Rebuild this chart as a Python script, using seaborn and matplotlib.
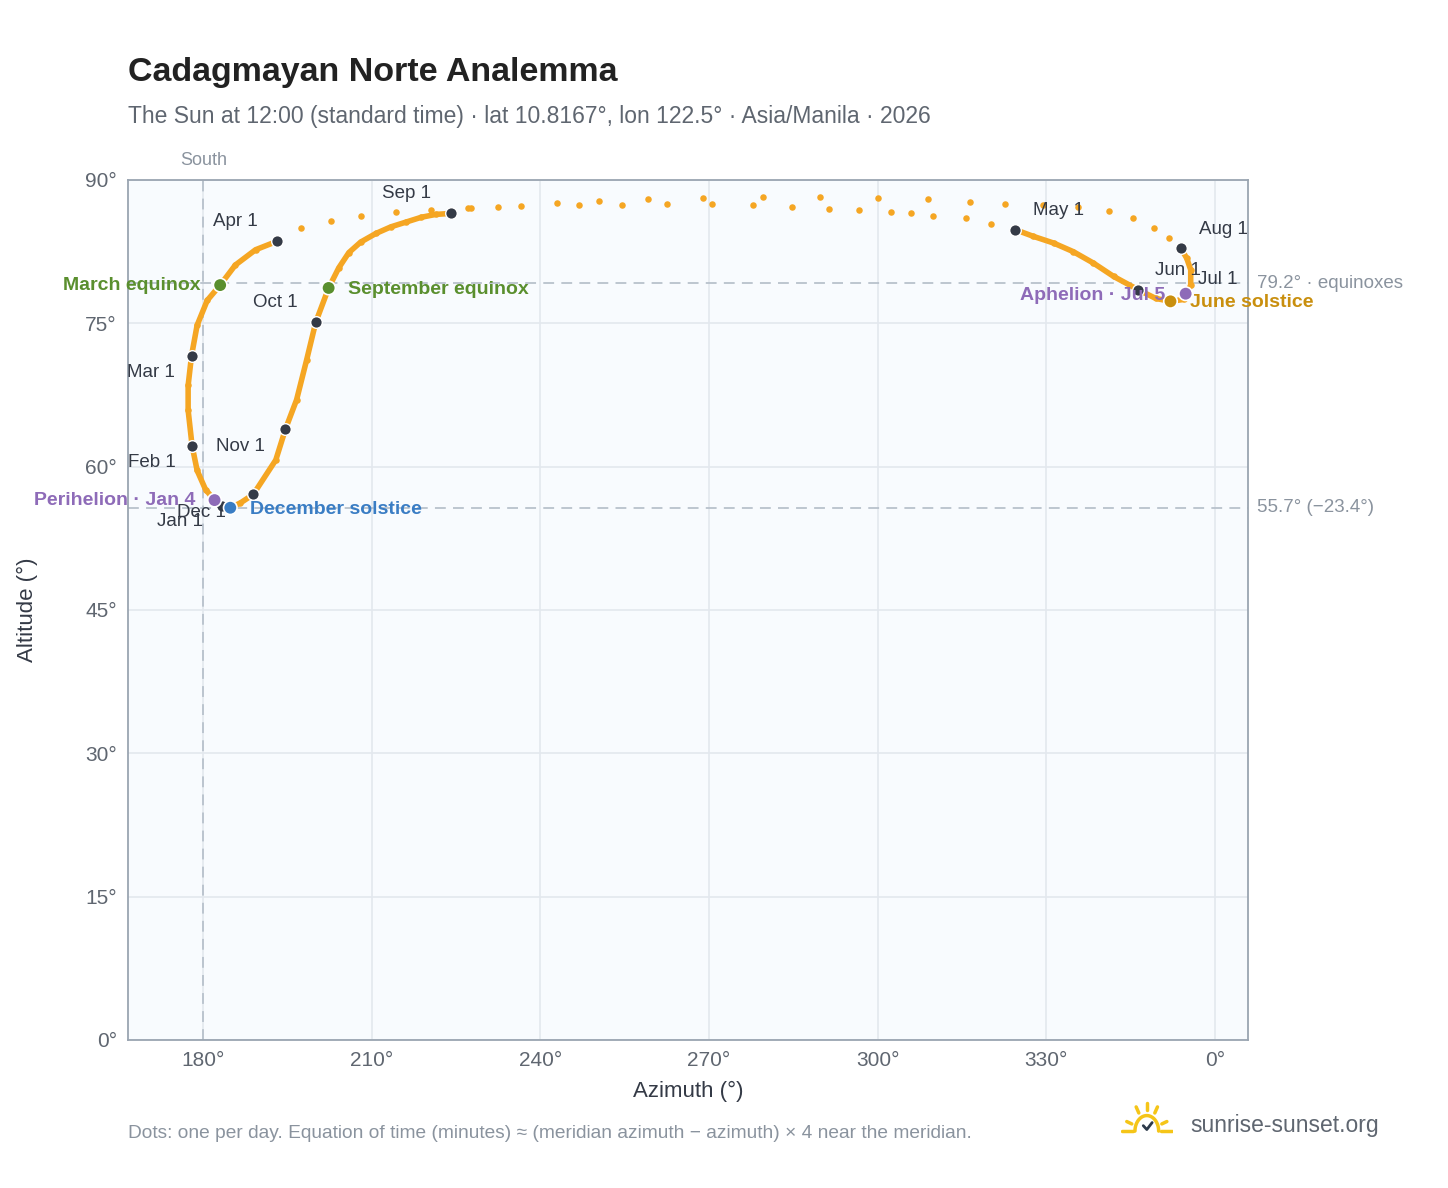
import numpy as np
import pandas as pd
import matplotlib
matplotlib.use("Agg")
import matplotlib.pyplot as plt
import seaborn as sns

# sun position at 12:00 (azimuth deg, altitude deg), chronological from Jan 1
azimuth = [183.4, 182.0, 180.4, 178.9, 178.0, 177.3, 177.3, 177.9, 178.9, 180.7, 183.0, 185.7, 189.3, 193.2,
           197.3, 202.7, 208.0, 214.3, 220.5, 227.7, 236.6, 246.8, 254.5, 262.5, 270.5, 277.9, 284.8, 291.3,
           296.6, 302.3, 305.9, 309.8, 315.7, 320.2, 324.5, 327.7, 331.3, 334.8, 338.4, 342.0, 346.4, 349.5,
           352.1, 354.5, 355.7, 355.7, 355.0, 353.9, 351.8, 349.1, 345.5, 341.1, 335.7, 329.5, 322.7, 316.4,
           308.9, 300.0, 289.8, 279.6, 268.9, 259.1, 250.4, 243.0, 232.5, 227.1, 224.1, 221.4, 218.8, 216.1,
           213.4, 210.7, 208.0, 205.9, 204.1, 202.3, 200.0, 198.4, 196.6, 194.6, 192.9, 188.9, 186.6, 184.8]
altitude = [55.9, 56.5, 57.6, 59.6, 62.2, 65.9, 68.5, 71.6, 74.8, 77.4, 79.0, 81.1, 82.7, 83.6,
            85.0, 85.7, 86.2, 86.6, 86.9, 87.1, 87.3, 87.4, 87.4, 87.5, 87.5, 87.4, 87.2, 87.0,
            86.9, 86.6, 86.5, 86.2, 86.0, 85.4, 84.8, 84.1, 83.4, 82.5, 81.3, 79.9, 78.5, 77.6,
            77.3, 77.5, 79.0, 80.6, 81.8, 82.9, 83.9, 85.0, 86.0, 86.8, 87.2, 87.4, 87.5, 87.7,
            88.0, 88.1, 88.2, 88.2, 88.1, 88.0, 87.8, 87.6, 87.2, 87.1, 86.5, 86.4, 86.1, 85.6,
            85.1, 84.4, 83.5, 82.4, 80.8, 78.7, 75.1, 71.2, 67.0, 63.9, 60.7, 57.1, 56.2, 55.7]

month_names = ["Jan 1", "Feb 1", "Mar 1", "Apr 1", "May 1", "Jun 1", "Jul 1", "Aug 1", "Sep 1", "Oct 1", "Nov 1", "Dec 1"]
month_az = [183.4, 178.0, 177.9, 193.2, 324.5, 346.4, 354.8, 353.9, 224.1, 200.0, 194.6, 188.9]
month_alt = [55.9, 62.2, 71.6, 83.6, 84.8, 78.5, 78.1, 82.9, 86.5, 75.1, 63.9, 57.1]
month_dx = [-14, -12, -12, -30, 13, 12, 9, 13, -32, -13, -50, -20]
month_dy = [-11, -12, -12, 14, 14, 14, 10, 13, 14, 14, -12, -13]
month_ha = ["right", "right", "right", "center", "left", "left", "left", "left", "center", "right", "left", "right"]

events = ["March equinox", "September equinox", "December solstice", "June solstice", "Perihelion · Jan 4", "Aphelion · Jul 5"]
event_az = [183.0, 202.3, 184.8, 352.1, 182.0, 354.8]
event_alt = [79.0, 78.7, 55.7, 77.3, 56.5, 78.1]
event_col = ["#5a8f2e", "#5a8f2e", "#3a7dc4", "#c98f0e", "#8e6bb8", "#8e6bb8"]
event_dx = [-14, 14, 14, 14, -14, -15]
event_dy = [0, -1, -1, -1, 0, -1]
event_ha = ["right", "left", "left", "left", "right", "right"]

sns.set_theme(style="white")
plt.rcParams['font.family'] = ['Liberation Sans', 'DejaVu Sans']

fig = plt.figure(figsize=(14.48, 11.88), dpi=100)
ax = fig.add_axes([0.0884, 0.1246, 0.7735, 0.7239])
ax.set_facecolor("#f8fbfe")

df = pd.DataFrame({"az": azimuth, "alt": altitude})
# dense parts of the curve drawn as a line, sparse top as dots
left = pd.concat([df.iloc[66:], df.iloc[:14]])
right = df.iloc[34:48]
ax.plot(left["az"].values, left["alt"].values, color="#f5a623", lw=4, solid_capstyle="round", zorder=2)
ax.plot(right["az"].values, right["alt"].values, color="#f5a623", lw=4, solid_capstyle="round", zorder=2)
sns.scatterplot(data=df, x="az", y="alt", ax=ax, color="#f5a623", s=22, linewidth=0, zorder=3, legend=False)

for lvl in [79.2, 55.7]:
    ax.axhline(lvl, color="#b8c2cc", ls=(0, (6, 4)), lw=1.3, zorder=1)
ax.axvline(180, color="#b8c2cc", ls=(0, (6, 4)), lw=1.3, zorder=1)

ax.scatter(month_az, month_alt, s=70, color="#343a46", edgecolor="white", linewidth=1, zorder=5)
for n, x, y, dx, dy, ha in zip(month_names, month_az, month_alt, month_dx, month_dy, month_ha):
    ax.annotate(n, (x, y), xytext=(dx, dy), textcoords="offset points", fontsize=13.5, color="#343a46",
                va="center", ha=ha, zorder=6)

ax.scatter(event_az, event_alt, s=95, color=event_col, edgecolor="white", linewidth=1.2, zorder=6)
for n, x, y, c, dx, dy, ha in zip(events, event_az, event_alt, event_col, event_dx, event_dy, event_ha):
    ax.annotate(n, (x, y), xytext=(dx, dy), textcoords="offset points", fontsize=14, color=c,
                fontweight="bold", va="center", ha=ha, zorder=7, annotation_clip=False)

ax.set_xlim(166.6, 365.9)
ax.set_ylim(0, 90)
ax.set_xticks([180, 210, 240, 270, 300, 330, 360])
ax.set_xticklabels(["180°", "210°", "240°", "270°", "300°", "330°", "0°"])
ax.set_yticks(range(0, 91, 15))
ax.set_yticklabels([f"{v}°" for v in range(0, 91, 15)])
ax.tick_params(labelsize=15, colors="#5f6670", length=0, pad=8)
ax.grid(True, color="#e3e8ee", lw=1.2)
ax.set_axisbelow(True)
for s in ax.spines.values():
    s.set_color("#9aa5b1")
    s.set_linewidth(1.3)
ax.set_xlabel("Azimuth (°)", fontsize=16, color="#343a46", labelpad=8)
ax.set_ylabel("Altitude (°)", fontsize=16, color="#343a46", labelpad=34)

ax.text(180, 91.2, "South", ha="center", va="bottom", fontsize=13, color="#8a939e")
ax.text(367.5, 79.2, "79.2° · equinoxes", ha="left", va="center", fontsize=13.5, color="#8a939e", clip_on=False)
ax.text(367.5, 55.7, "55.7° (−23.4°)", ha="left", va="center", fontsize=13.5, color="#8a939e", clip_on=False)

fig.text(0.0884, 0.939, "Cadagmayan Norte Analemma", fontsize=24.5, fontweight="bold", color="#222222", va="center")
fig.text(0.0884, 0.902, "The Sun at 12:00 (standard time) · lat 10.8167°, lon 122.5° · Asia/Manila · 2026",
         fontsize=16.5, color="#5f6670", va="center")
fig.text(0.0884, 0.046, "Dots: one per day. Equation of time (minutes) ≈ (meridian azimuth − azimuth) × 4 near the meridian.",
         fontsize=13.8, color="#8a939e", va="center")
fig.text(0.822, 0.053, "sunrise-sunset.org", fontsize=16.5, color="#5f6670", va="center")
# small sun logo
lx, ly = 0.792, 0.056
logo = fig.add_axes([lx - 0.018, ly - 0.012, 0.036, 0.03])
logo.axis("off")
th = np.linspace(0, np.pi, 40)
logo.plot(np.cos(th), np.sin(th), color="#f5c518", lw=2.5)
for a in np.deg2rad([20, 60, 90, 120, 160]):
    logo.plot([1.35 * np.cos(a), 1.8 * np.cos(a)], [1.35 * np.sin(a), 1.8 * np.sin(a)], color="#f5c518", lw=2.5)
logo.plot([-2.1, -1.2], [0, 0], color="#f5c518", lw=2.5)
logo.plot([1.2, 2.1], [0, 0], color="#f5c518", lw=2.5)
logo.plot([-0.3, 0, 0.45], [0.35, 0.1, 0.55], color="#2d3a4a", lw=2)
logo.set_xlim(-2.2, 2.2)
logo.set_ylim(-0.3, 2.0)

fig.savefig("out.png", dpi=100)
